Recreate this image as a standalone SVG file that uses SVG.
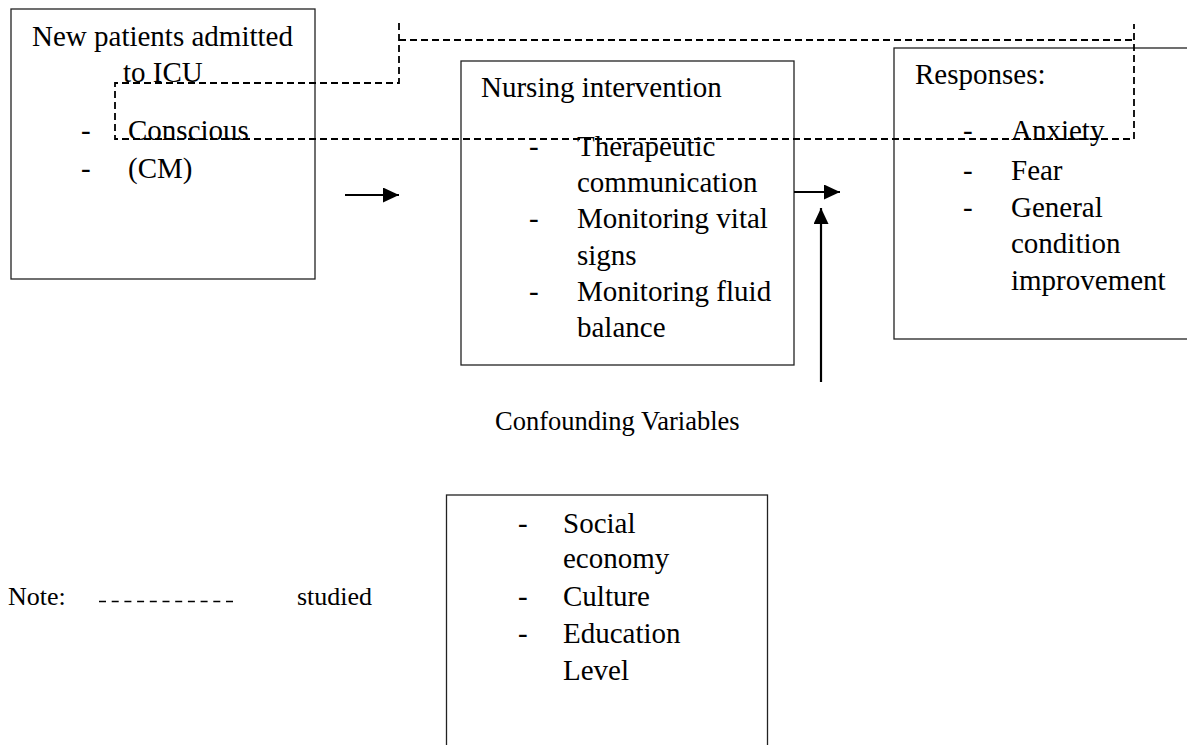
<svg xmlns="http://www.w3.org/2000/svg" width="1187" height="745" viewBox="0 0 1187 745">
<style>
text{font-family:"Liberation Serif","Times New Roman",serif;font-size:29px;fill:#000}
.box{fill:none;stroke:#222;stroke-width:1.3}
.arr{stroke:#000;stroke-width:2.2;fill:none}
.dash{stroke:#000;stroke-width:1.8;fill:none;stroke-dasharray:7 4}
</style>
<defs>
<marker id="ah" markerUnits="userSpaceOnUse" markerWidth="16" markerHeight="15" refX="16" refY="7.5" orient="auto">
<path d="M0,0 L16,7.5 L0,15 z" fill="#000"/>
</marker>
</defs>
<rect width="1187" height="745" fill="#fff"/>
<g id="node-patients">
<rect class="box" x="11" y="9" width="304" height="270"/>
<text x="32" y="46">New patients admitted</text>
<text x="123" y="82">to ICU</text>
<text x="81" y="140">-</text><text x="128" y="140">Conscious</text>
<text x="81" y="178">-</text><text x="128" y="178">(CM)</text>
</g>
<g id="node-nursing">
<rect class="box" x="461" y="61" width="333" height="304"/>
<text x="481" y="97">Nursing intervention</text>
<text x="529" y="156">-</text><text x="577" y="156">Therapeutic</text>
<text x="577" y="192">communication</text>
<text x="529" y="228">-</text><text x="577" y="228">Monitoring vital</text>
<text x="577" y="265">signs</text>
<text x="529" y="301">-</text><text x="577" y="301">Monitoring fluid</text>
<text x="577" y="337">balance</text>
</g>
<g id="node-responses">
<rect class="box" x="894" y="48" width="310" height="291"/>
<text x="915" y="84">Responses:</text>
<text x="963" y="140">-</text><text x="1011" y="140">Anxiety</text>
<text x="963" y="180">-</text><text x="1011" y="180">Fear</text>
<text x="963" y="217">-</text><text x="1011" y="217">General</text>
<text x="1011" y="253">condition</text>
<text x="1011" y="290">improvement</text>
</g>
<g id="node-confounding">
<text x="495" y="430" style="font-size:26.5px">Confounding Variables</text>
<rect class="box" x="446.5" y="495" width="321" height="270"/>
<text x="518" y="533">-</text><text x="563" y="533">Social</text>
<text x="563" y="568">economy</text>
<text x="518" y="606">-</text><text x="563" y="606">Culture</text>
<text x="518" y="643">-</text><text x="563" y="643">Education</text>
<text x="563" y="680">Level</text>
</g>
<g id="legend">
<text x="8" y="605" style="font-size:26px">Note:</text>
<line x1="99" y1="601.5" x2="236" y2="601.5" stroke="#000" stroke-width="1.5" stroke-dasharray="7 5.7"/>
<text x="297" y="605" style="font-size:26px">studied</text>
</g>
<g id="connectors">
<path class="dash" d="M399,23 V83 H115 V139 H1134 V24"/>
<path class="dash" d="M399,40 H1134"/>
<line class="arr" x1="345" y1="195" x2="399" y2="195" marker-end="url(#ah)"/>
<line class="arr" x1="794" y1="192" x2="840" y2="192" marker-end="url(#ah)"/>
<line class="arr" x1="821" y1="382" x2="821" y2="208" marker-end="url(#ah)"/>
</g>
</svg>
